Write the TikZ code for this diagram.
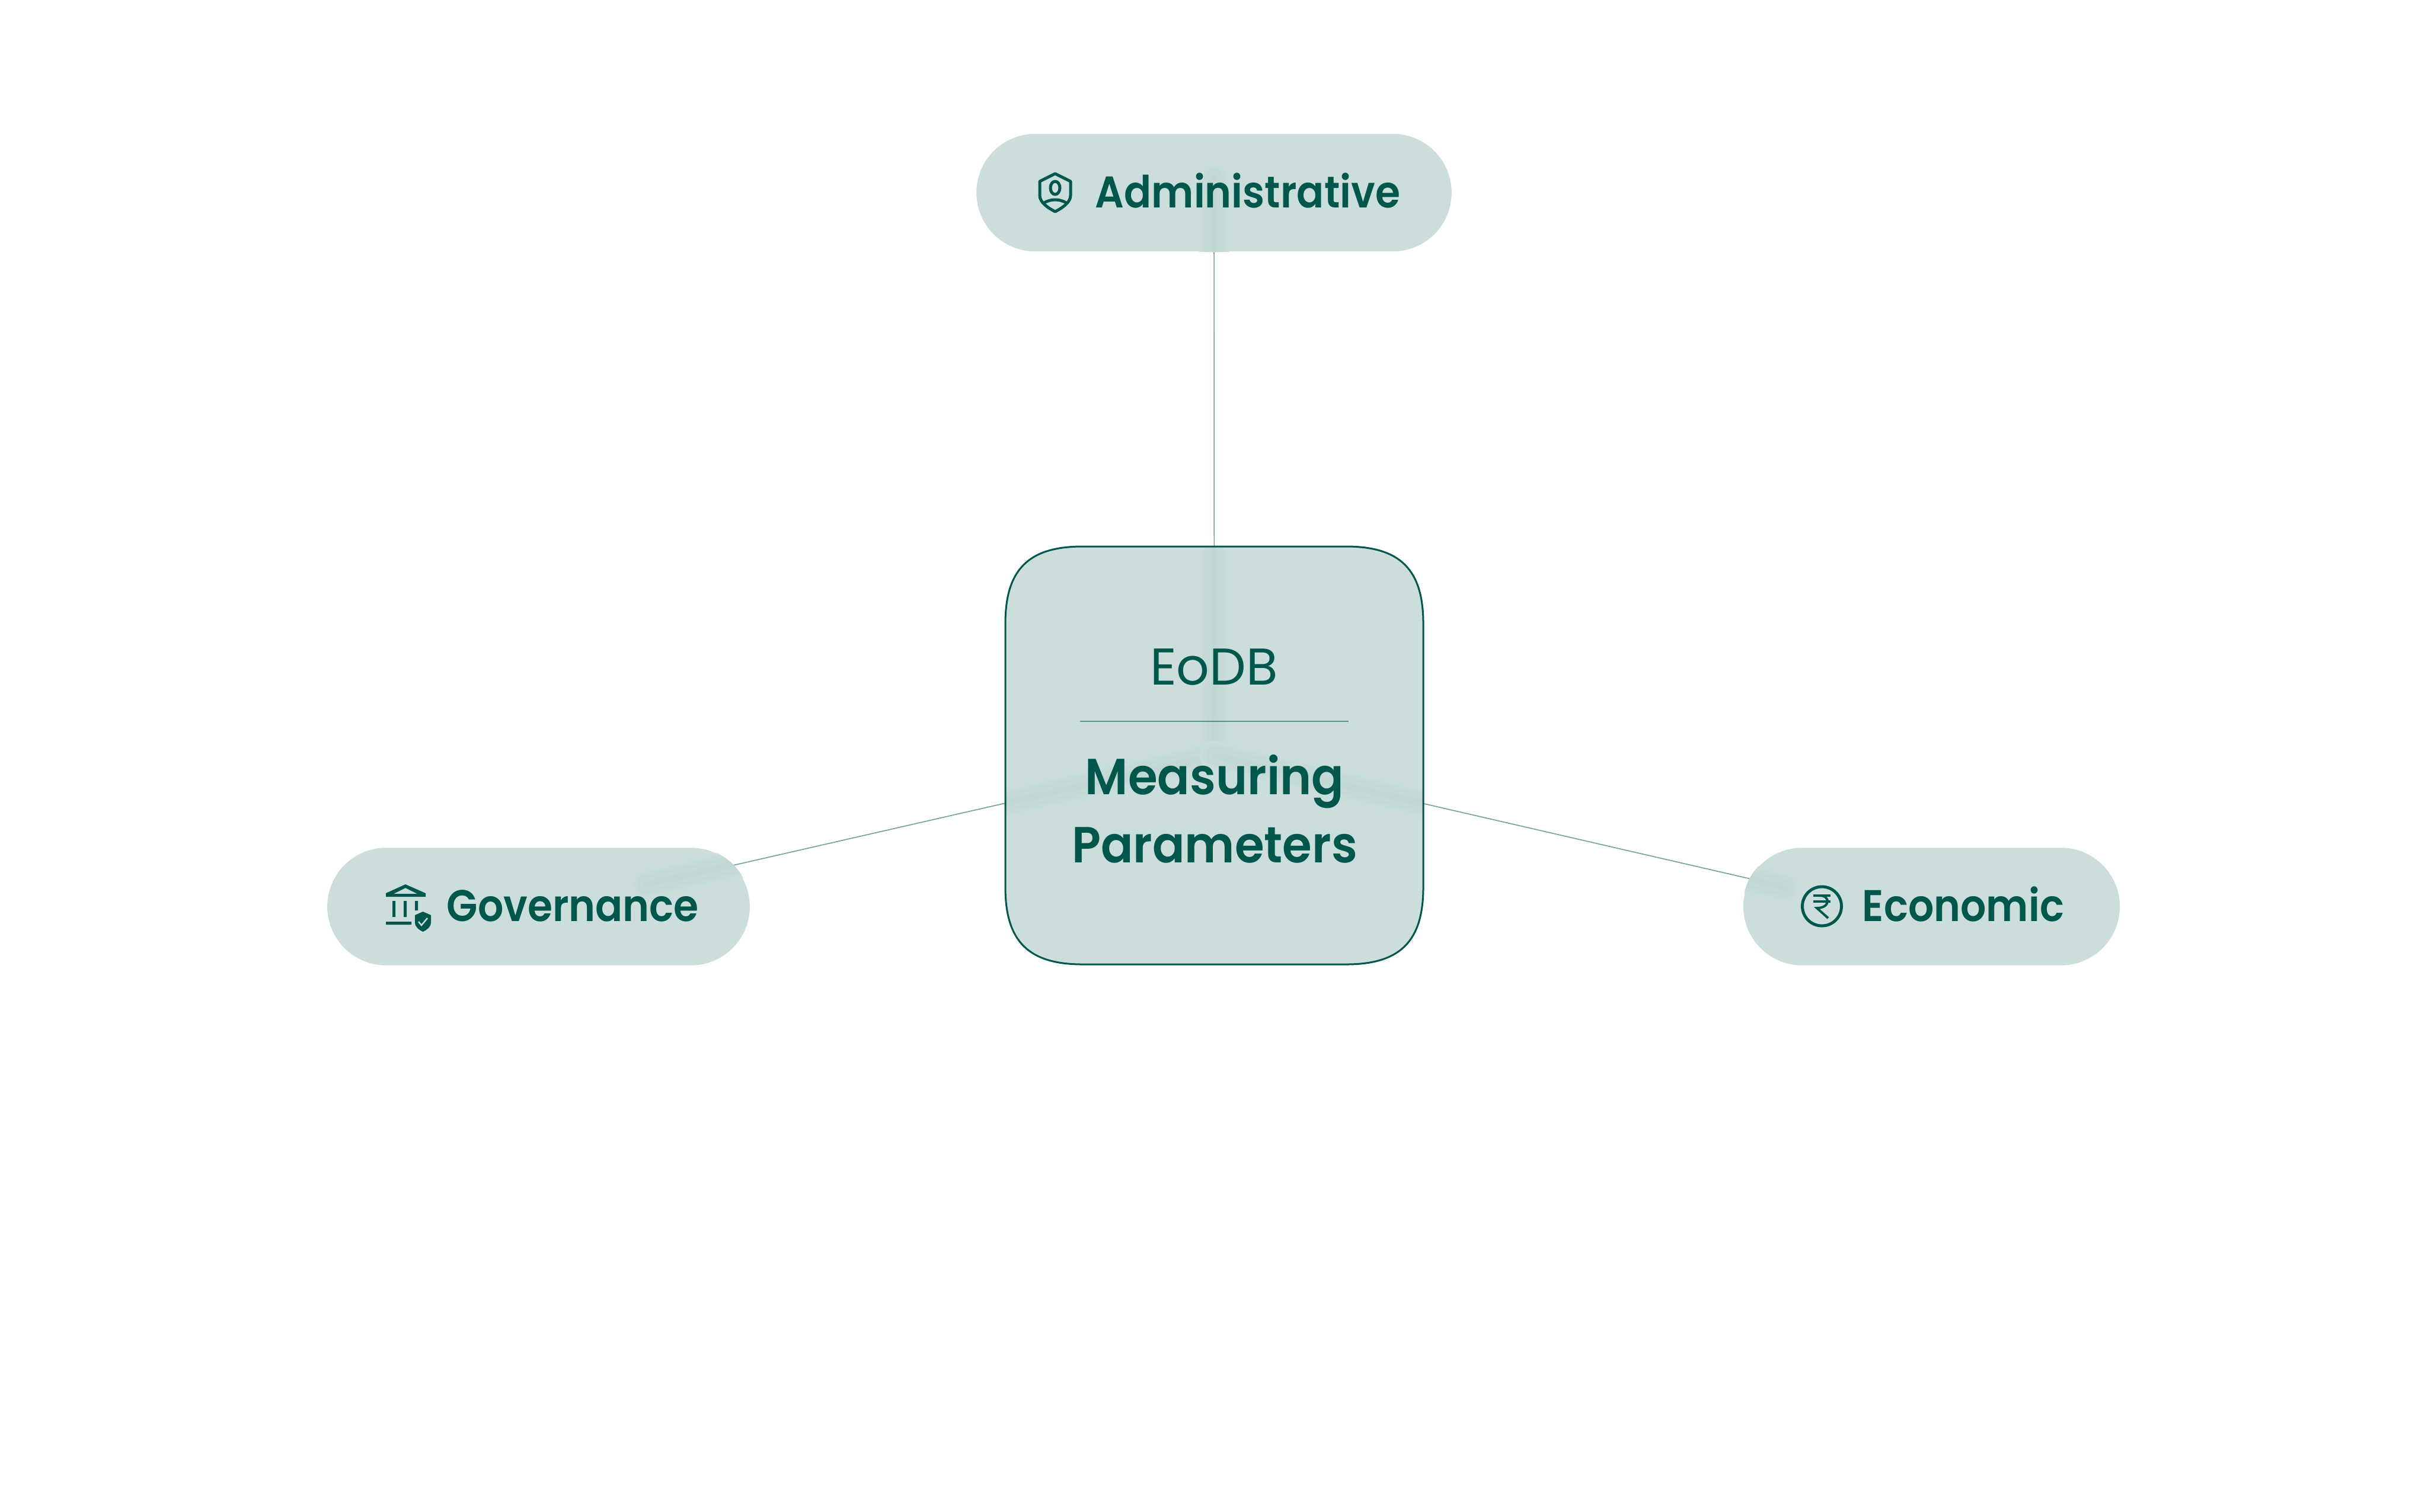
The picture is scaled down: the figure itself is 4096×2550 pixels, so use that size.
\documentclass[tikz,border=0pt]{standalone}
\usepackage{fontspec}
\setmainfont{Poppins}
\newfontfamily\lightfont{Poppins}
\newfontfamily\headfont[FakeStretch=0.94]{Poppins SemiBold}
\newfontfamily\pillfont[FakeStretch=0.91]{Poppins SemiBold}
\usetikzlibrary{positioning}
\pgfdeclarelayer{background}
\pgfsetlayers{background,main}
\definecolor{deepgreen}{HTML}{02574D}
\definecolor{palegreen}{HTML}{CBDEDB}
\tikzstyle{pillblock}=[rectangle, rounded corners=24.8pt, fill=palegreen, minimum height=49.6pt, inner sep=0pt]
\tikzstyle{rootframe}=[rectangle, minimum width=176.2pt, minimum height=176.2pt, inner sep=0pt]
\tikzstyle{pilltext}=[anchor=base west, text=deepgreen, inner sep=0pt, font=\pillfont\fontsize{18.7pt}{22pt}\selectfont]
\tikzstyle{roottext}=[anchor=base, text=deepgreen, inner sep=0pt, font=\headfont\fontsize{21.4pt}{25pt}\selectfont]
\tikzstyle{link}=[draw=deepgreen, draw opacity=0.55, line width=0.42pt]
\tikzstyle{iconline}=[draw=deepgreen, line width=1.25pt, line join=round]
\newcommand{\rootoutline}{(1696,1052) .. controls (1696,961) and (1735,922) .. (1826,922) -- (2271,922)
 .. controls (2362,922) and (2401,961) .. (2401,1052) -- (2401,1497)
 .. controls (2401,1588) and (2362,1627) .. (2271,1627) -- (1826,1627)
 .. controls (1735,1627) and (1696,1588) .. (1696,1497) -- cycle}
\newcommand{\softband}[4]{
 \begin{scope}
  \clip[rounded corners=#4] (#1.north west) rectangle (#1.south east);
  \foreach \wd/\pc in {50/1,40/2,30/3,20/4,10/5}
   \draw[draw=deepgreen!\pc!palegreen, line cap=round, line width=\wd*0.25pt] (#2) -- (#3);
 \end{scope}}

\begin{document}
\begin{tikzpicture}[x=0.25pt, y=-0.25pt]
\useasboundingbox (0,0) rectangle (4096,2550);

\fill[palegreen] \rootoutline;
\node[rootframe] (root) at (2048.5,1274.5) {};
\node[pillblock, minimum width=200.4pt] (admin) at (2048,325) {};
\node[pillblock, minimum width=178.2pt] (gov) at (908.5,1529.5) {};
\node[pillblock, minimum width=158.8pt] (eco) at (3258.5,1529.5) {};

\coordinate (govend) at (908,1535);
\coordinate (ecoend) at (3258,1553);
\coordinate (adminshade) at (2048,300);
\coordinate (govshade) at (1090,1492);
\coordinate (ecoshade) at (3010,1497);
\coordinate (divleft) at (1822,1217);
\coordinate (divright) at (2275,1217);

\begin{pgfonlayer}{background}
\draw[link] (root.center) -- (admin.center);
\draw[link] (root.center) -- (govend);
\draw[link] (root.center) -- (ecoend);
\end{pgfonlayer}

\softband{root}{root.center}{admin.center}{27pt}
\softband{root}{root.center}{govend}{27pt}
\softband{root}{root.center}{ecoend}{27pt}
\softband{admin}{root.center}{adminshade}{24.8pt}
\softband{gov}{root.center}{govshade}{24.8pt}
\softband{eco}{root.center}{ecoshade}{24.8pt}

\draw[deepgreen, line width=0.75pt] \rootoutline;
\draw[link] (divleft) -- (divright);

\node[roottext, font=\lightfont\fontsize{21.8pt}{25pt}\selectfont] (eodb) at (2048,1155) {EoDB};
\node[roottext] (measuring) at (2049,1340) {Measuring};
\node[roottext] (parameters) at (2049,1455) {Parameters};
\node[pilltext] (adminlabel) at (1847,350) {Administrative};
\node[pilltext] (govlabel) at (753,1554) {Governance};
\node[pilltext] (ecolabel) at (3141,1554) {Economic};

% shield
\draw[iconline] (1780,293) -- (1754,306) -- (1754,330) .. controls (1754,342) and (1770,352) .. (1780,357) .. controls (1790,352) and (1806,342) .. (1806,330) -- (1806,306) -- cycle;
\draw[iconline] (1780,317) ellipse (8 and 11);
\draw[iconline] (1760,343) .. controls (1772,335) and (1788,335) .. (1800,343);

% bank
\fill[deepgreen, even odd rule] (684,1492) -- (718,1507) -- (718,1513) -- (651,1513) -- (651,1507) -- cycle (684,1498) -- (664,1508) -- (704,1508) -- cycle;
\fill[deepgreen] (662,1520) rectangle (667,1547) (681,1520) rectangle (686,1547) (700,1520) rectangle (705,1536) (651,1555) rectangle (694,1560);
\fill[deepgreen] (713.5,1538) -- (727,1544) -- (727,1556) .. controls (727,1564) and (720,1569) .. (713.5,1572) .. controls (707,1569) and (700,1564) .. (700,1556) -- (700,1544) -- cycle;
\draw[palegreen, line width=0.6pt] (706,1555) -- (711,1561) -- (721,1549);

% rupee
\draw[iconline] (3073.5,1529) circle (33);
\draw[deepgreen, line width=1pt] (3059,1511) -- (3088,1511) (3059,1521) -- (3088,1521);
\draw[deepgreen, line width=1pt] (3070,1511) .. controls (3088,1511) and (3088,1532) .. (3065,1532) -- (3084,1549);

\end{tikzpicture}
\end{document}
